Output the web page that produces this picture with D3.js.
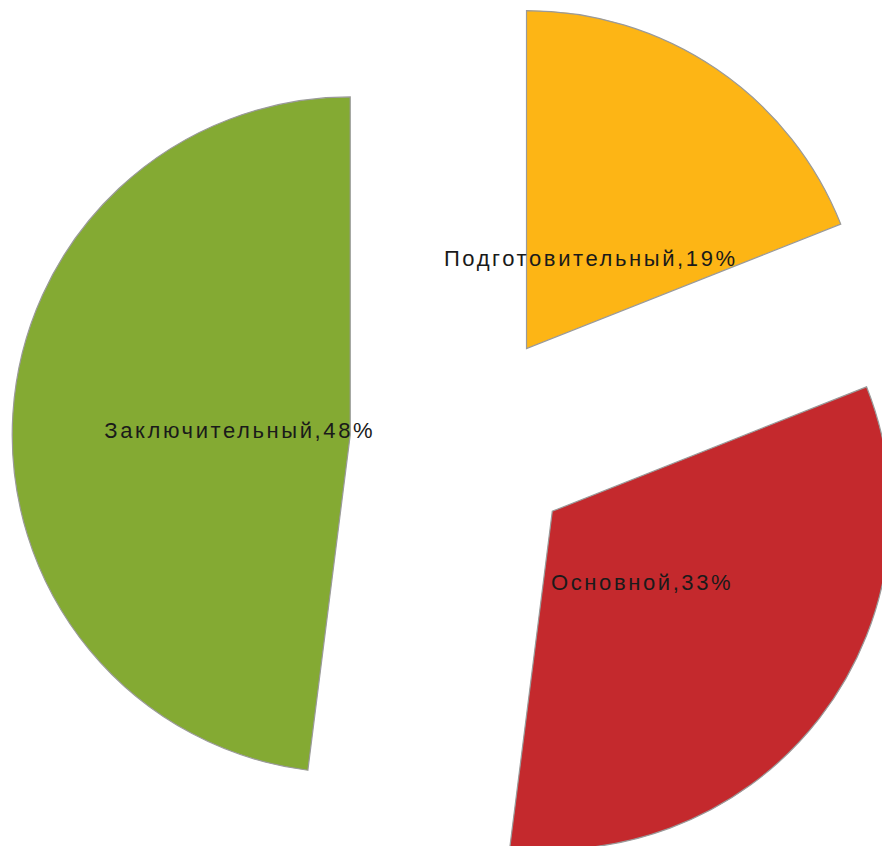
<!DOCTYPE html>
<html><head><meta charset="utf-8">
<script src="https://cdn.jsdelivr.net/npm/d3@7"></script>
<style>html,body{margin:0;padding:0;background:#fff;overflow:hidden}</style>
</head><body>
<svg id="chart" width="882" height="846"></svg>
<script>
const categories = ["Подготовительный", "Основной", "Заключительный"];
const values = [19, 33, 48];
const colors = ["#FDB515", "#C4292D", "#84AA33"];

const svg = d3.select("#chart");
const cx = 463, cy = 442, r = 338, explode = 113, labelR = 112;
const data = categories.map((c, i) => ({name: c, value: values[i], color: colors[i]}));
const pie = d3.pie().sort(null).value(d => d.value);
const arc = d3.arc().innerRadius(0).outerRadius(r);
const arcs = pie(data);
const g = svg.append("g").attr("transform", `translate(${cx},${cy})`);
const slices = g.selectAll("g.slice").data(arcs).enter().append("g")
  .attr("transform", d => {
    const a = (d.startAngle + d.endAngle) / 2;
    return `translate(${explode * Math.sin(a)},${-explode * Math.cos(a)})`;
  });
slices.append("path").attr("d", arc).attr("fill", d => d.data.color)
  .attr("stroke", "#9a9a9a").attr("stroke-width", 1.2);
slices.append("text")
  .attr("x", d => labelR * Math.sin((d.startAngle + d.endAngle) / 2) + 1.3)
  .attr("y", d => -labelR * Math.cos((d.startAngle + d.endAngle) / 2) + 3)
  .attr("text-anchor", "middle").attr("dominant-baseline", "central")
  .attr("font-family", "Liberation Sans, Arial, sans-serif").attr("font-size", 22)
  .attr("letter-spacing", 2.6)
  .attr("fill", "#1a1a1a")
  .text(d => `${d.data.name},${d.data.value}%`);
</script>
</body></html>
